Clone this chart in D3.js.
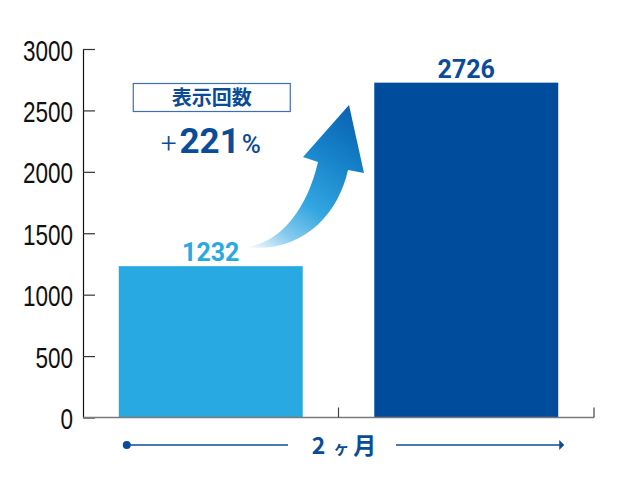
<!DOCTYPE html>
<html>
<head>
<meta charset="utf-8">
<script src="https://cdn.jsdelivr.net/npm/d3@7"></script>
<style>
  body { margin: 0; background: #fff; }
  svg { display: block; }
</style>
</head>
<body>
<div id="chart"></div>
<script>
// Data
var categories = ["before", "after"],
  values = [1232, 2726],
  yTicks = [0, 500, 1000, 1500, 2000, 2500, 3000],
  boxLabel = "表示回数",
  growthLabel = ["+", "221", "%"],
  periodLabel = ["2", "ヶ", "月"];

// Placement
var width = 640,
  height = 480,
  axisLeftX = 83,
  axisRightX = 594,
  baseY = 417.5,
  topY = 49;

var barColor = d3.scaleOrdinal().domain(categories).range(["#29a9e1", "#004c9c"]),
  labelColor = d3.scaleOrdinal().domain(categories).range(["#29a9e1", "#0a4c98"]),
  navy = "#0a4c98";

var x = d3.scaleBand()
  .domain(categories)
  .range([axisLeftX, axisRightX])
  .paddingInner(0.28)
  .paddingOuter(0.14);

var y = d3.scaleLinear()
  .domain([0, 3000])
  .range([baseY, topY]);

var svg = d3.select("#chart")
  .append("svg")
  .attr("width", width)
  .attr("height", height);

// gradient for the curved arrow
var defs = svg.append("defs");
var grad = defs.append("linearGradient")
  .attr("id", "arrowGrad")
  .attr("gradientUnits", "userSpaceOnUse")
  .attr("x1", 248).attr("y1", 250)
  .attr("x2", 345).attr("y2", 110);
grad.append("stop").attr("offset", 0).attr("stop-color", "#ffffff");
grad.append("stop").attr("offset", 0.2).attr("stop-color", "#86caee");
grad.append("stop").attr("offset", 0.42).attr("stop-color", "#32a6e0");
grad.append("stop").attr("offset", 0.75).attr("stop-color", "#1580c8");
grad.append("stop").attr("offset", 1).attr("stop-color", "#0a66b4");

// bars
svg.append("g").selectAll("rect")
  .data(categories)
  .enter().append("rect")
  .attr("x", function(d) { return x(d); })
  .attr("y", function(d, i) { return y(values[i]); })
  .attr("width", x.bandwidth())
  .attr("height", function(d, i) { return y(0) - y(values[i]); })
  .attr("fill", function(d) { return barColor(d); });

// value labels
svg.append("g").selectAll("text")
  .data(categories)
  .enter().append("text")
  .attr("x", function(d) { return x(d) + x.bandwidth() / 2; })
  .attr("y", function(d, i) { return y(values[i]) - 5; })
  .attr("text-anchor", "middle")
  .attr("font-family", "Roboto, sans-serif")
  .attr("font-weight", 700)
  .attr("font-size", 25)
  .attr("fill", function(d) { return labelColor(d); })
  .text(function(d, i) { return values[i]; });

// y axis, ticks point inward
var yAxis = d3.axisLeft(y)
  .tickValues(yTicks)
  .tickSizeInner(-12)
  .tickSizeOuter(0)
  .tickPadding(0)
  .tickFormat(d3.format("d"));

var gy = svg.append("g")
  .attr("transform", "translate(" + axisLeftX + ",0)")
  .call(yAxis);
gy.select(".domain").attr("stroke", "#111").attr("stroke-width", 1.2);
gy.selectAll(".tick line").attr("stroke", "#333").attr("stroke-width", 1.2);
gy.selectAll(".tick text")
  .attr("x", null)
  .attr("dy", null)
  .attr("font-family", "'Liberation Sans', Arial, sans-serif")
  .attr("font-size", 30)
  .attr("fill", "#111")
  .attr("text-anchor", "end")
  .attr("transform", "translate(-10,11) scale(0.75,1)");

// x axis baseline with boundary ticks
var gx = svg.append("g");
gx.append("line")
  .attr("x1", x.range()[0]).attr("x2", x.range()[1])
  .attr("y1", y(0)).attr("y2", y(0))
  .attr("stroke", "#7a7a7a")
  .attr("stroke-width", 1.6);
gx.selectAll(".xtick")
  .data(categories)
  .enter().append("line")
  .attr("class", "xtick")
  .attr("x1", function(d) { return x(d) + x.bandwidth() + x.step() * x.paddingOuter(); })
  .attr("x2", function(d) { return x(d) + x.bandwidth() + x.step() * x.paddingOuter(); })
  .attr("y1", y(0) - 10).attr("y2", y(0))
  .attr("stroke", "#444")
  .attr("stroke-width", 1.2);

// curved arrow between the bars
svg.append("path")
  .attr("d", "M245,247 C276,245 306,214 318,162 L303,157 L349,105 L364,173 L348,170 C338,215 302,254 245,247 Z")
  .attr("fill", "url(#arrowGrad)");

// label box
var x0 = x(categories[0]);
svg.append("rect")
  .attr("x", x0 + 14.5).attr("y", 83.5)
  .attr("width", 157).attr("height", 28)
  .attr("fill", "#fff")
  .attr("stroke", "#3d6fb6")
  .attr("stroke-width", 1.2);
svg.append("text")
  .attr("x", x0 + 93).attr("y", 105)
  .attr("text-anchor", "middle")
  .attr("font-family", "'Noto Sans CJK JP', sans-serif")
  .attr("font-weight", 700)
  .attr("font-size", 20)
  .attr("fill", navy)
  .text(boxLabel);

var growth = svg.append("text")
  .attr("x", x0 + 92).attr("y", 153)
  .attr("text-anchor", "middle")
  .attr("font-family", "Roboto, sans-serif")
  .attr("fill", navy);
growth.append("tspan").attr("font-size", 28).attr("font-weight", 300).text(growthLabel[0]);
growth.append("tspan").attr("dx", 3).attr("font-size", 35).attr("font-weight", 700).text(growthLabel[1]);
growth.append("tspan").attr("dx", 2).attr("font-size", 26).attr("font-weight", 500).text(growthLabel[2]);

// period indicator under the axis
var lineY = 445,
  leftStart = x(categories[0]) + 8,
  rightEnd = x(categories[1]) + x.bandwidth() + 6,
  midX = 344;

svg.append("circle")
  .attr("cx", leftStart).attr("cy", lineY).attr("r", 4)
  .attr("fill", navy);
svg.append("line")
  .attr("x1", leftStart).attr("x2", 288)
  .attr("y1", lineY).attr("y2", lineY)
  .attr("stroke", navy).attr("stroke-width", 1.3);
svg.append("line")
  .attr("x1", 396).attr("x2", rightEnd - 4)
  .attr("y1", lineY).attr("y2", lineY)
  .attr("stroke", navy).attr("stroke-width", 1.3);
svg.append("path")
  .attr("d", "M" + (rightEnd - 5) + "," + (lineY - 5) + " L" + rightEnd + "," + lineY + " L" + (rightEnd - 5) + "," + (lineY + 5) + " Z")
  .attr("fill", navy);

var period = svg.append("text")
  .attr("x", midX).attr("y", 454)
  .attr("text-anchor", "middle")
  .attr("font-family", "'Noto Sans CJK JP', sans-serif")
  .attr("font-weight", 700)
  .attr("fill", navy);
period.append("tspan").attr("font-size", 23).text(periodLabel[0]);
period.append("tspan").attr("dx", 8).attr("font-size", 16).text(periodLabel[1]);
period.append("tspan").attr("dx", 4).attr("font-size", 23).text(periodLabel[2]);
</script>
</body>
</html>
